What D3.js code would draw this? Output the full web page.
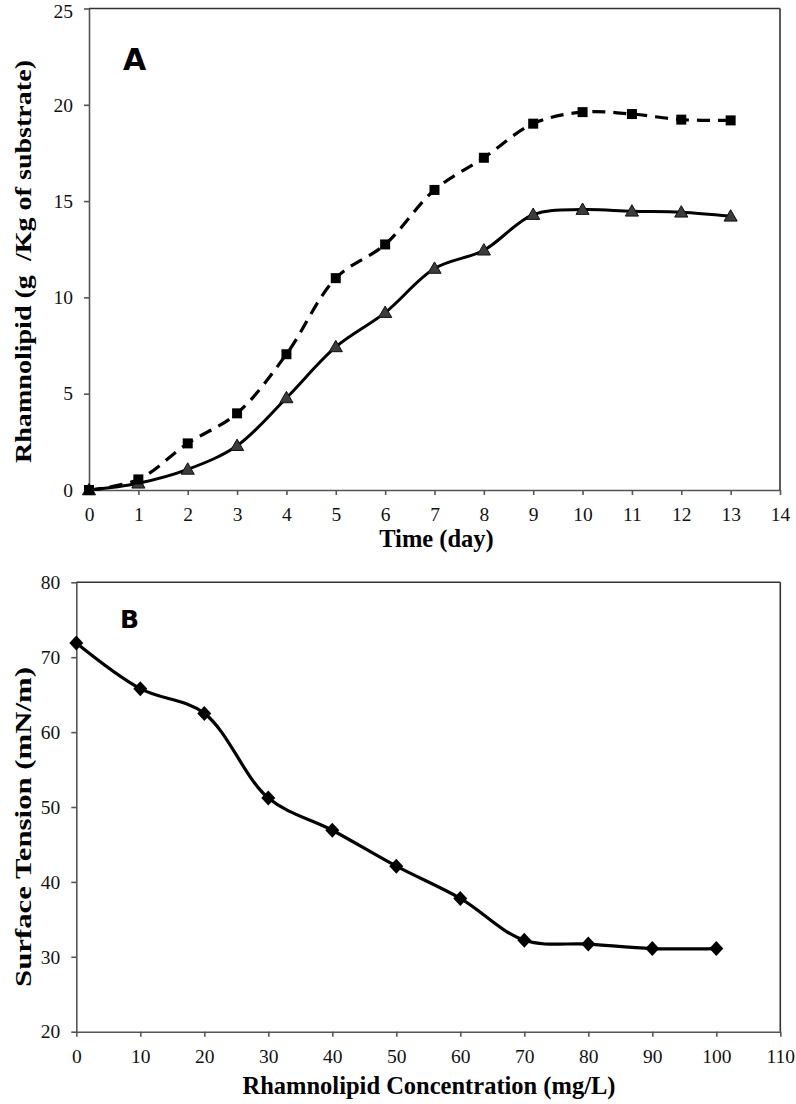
<!DOCTYPE html>
<html><head><meta charset="utf-8">
<script src="https://cdn.jsdelivr.net/npm/d3@7"></script>
<style>
html,body{margin:0;padding:0;background:#fff;}
svg{display:block;}
text{white-space:pre;}
</style></head>
<body>
<svg id="c" width="796" height="1104"></svg>
<script>
// ---- Panel A data ----
const daysA = [0,1,2,3,4,5,6,7,8,9,10,11,12,13];
const squaresA = [0,0.55,2.42,3.98,7.05,11.0,12.75,15.58,17.25,19.02,19.62,19.52,19.23,19.19];
const trianglesA = [0,0.35,1.07,2.3,4.78,7.43,9.21,11.5,12.45,14.3,14.56,14.47,14.42,14.21];
const xTicksA = [0,1,2,3,4,5,6,7,8,9,10,11,12,13,14];
const yTicksA = [0,5,10,15,20,25];
// ---- Panel B data ----
const concB = [0,10,20,30,40,50,60,70,80,90,100];
const tensionB = [71.9,65.8,62.5,51.2,46.9,42.1,37.8,32.2,31.7,31.1,31.1];
const xTicksB = [0,10,20,30,40,50,60,70,80,90,100,110];
const yTicksB = [20,30,40,50,60,70,80];

const svg = d3.select('#c');
const axisColor = '#555';
const serif = '"Liberation Serif","Times New Roman",serif';

function frame(g, x, y, xt, yt) {
  const [x0,x1] = x.range(), [y0,y1] = y.range();
  const ax = g.append('g').attr('transform',`translate(0,${y0})`)
    .call(d3.axisBottom(x).tickValues(xt).tickSize(5).tickPadding(12).tickSizeOuter(0));
  const ay = g.append('g').attr('transform',`translate(${x0},0)`)
    .call(d3.axisLeft(y).tickValues(yt).tickSize(5).tickPadding(11).tickSizeOuter(0));
  [ax,ay].forEach(a=>{
    a.selectAll('path').attr('stroke',axisColor).attr('stroke-width',1.6);
    a.selectAll('line').attr('stroke',axisColor).attr('stroke-width',1.6);
    a.selectAll('text').attr('font-family',serif).attr('font-size',19.5).attr('fill','#111');
  });
  ax.selectAll('text').attr('dy','0.71em');
  g.append('line').attr('x1',x0).attr('x2',x1).attr('y1',y1).attr('y2',y1)
    .attr('stroke','#333').attr('stroke-width',1.6);
  g.append('line').attr('x1',x1).attr('x2',x1).attr('y1',y1).attr('y2',y0)
    .attr('stroke','#333').attr('stroke-width',1.6);
  return ay;
}

// ---------- Panel A ----------
const gA = svg.append('g');
const xA = d3.scaleLinear().domain([0,14]).range([89,780]);
const yA = d3.scaleLinear().domain([0,25]).range([490,8.5]);
const ayA = frame(gA, xA, yA, xTicksA, yTicksA);
// keep the top tick label inside the page
ayA.selectAll('.tick').filter(d=>d===25).select('text').attr('dy','0.45em');

const lineA = d3.line().curve(d3.curveCatmullRom.alpha(0.5));
const triPts = daysA.map((d,i)=>[xA(d), yA(trianglesA[i])]);
const sqPts = daysA.map((d,i)=>[xA(d), yA(squaresA[i])]);

gA.append('path').attr('d', lineA(triPts)).attr('fill','none')
  .attr('stroke','#000').attr('stroke-width',3);
gA.selectAll('.tri').data(triPts).join('path')
  .attr('d', d3.symbol(d3.symbolTriangle, 75)())
  .attr('transform', d=>`translate(${d[0]},${d[1]+1})`)
  .attr('fill','#3c3c3c').attr('stroke','#111').attr('stroke-width',1);

gA.append('path').attr('d', lineA(sqPts)).attr('fill','none')
  .attr('stroke','#000').attr('stroke-width',3.2).attr('stroke-dasharray','13,8');
gA.selectAll('.sq').data(sqPts).join('rect')
  .attr('x', d=>d[0]-5).attr('y', d=>d[1]-5).attr('width',10).attr('height',10)
  .attr('fill','#000');

gA.append('text').text('A').attr('x',123).attr('y',70)
  .attr('font-family','"DejaVu Sans",sans-serif').attr('font-weight','bold')
  .attr('font-size',30).attr('fill','#000');

gA.append('text').text('Time (day)')
  .attr('x',(89+780)/2+2).attr('y',547).attr('text-anchor','middle')
  .attr('font-family',serif).attr('font-weight','bold').attr('font-size',24.5)
  .attr('fill','#000');

gA.append('text').text('Rhamnolipid (g  /Kg of substrate)')
  .attr('transform','translate(31,261.5) rotate(-90)')
  .attr('text-anchor','middle')
  .attr('textLength',403).attr('lengthAdjust','spacingAndGlyphs')
  .attr('font-family',serif).attr('font-weight','bold').attr('font-size',24)
  .attr('fill','#000');

// ---------- Panel B ----------
const gB = svg.append('g');
const xB = d3.scaleLinear().domain([0,110]).range([76.3,780.3]);
const yB = d3.scaleLinear().domain([20,80]).range([1031.7,582.3]);
frame(gB, xB, yB, xTicksB, yTicksB);

const bPts = concB.map((c,i)=>[xB(c), yB(tensionB[i])]);
gB.append('path').attr('d', lineA(bPts)).attr('fill','none')
  .attr('stroke','#000').attr('stroke-width',3.2);
gB.selectAll('.dia').data(bPts).join('path')
  .attr('d','M0,-7.5L7,0L0,7.5L-7,0Z')
  .attr('transform', d=>`translate(${d[0]},${d[1]})`)
  .attr('fill','#000');

gB.append('text').text('B').attr('x',120).attr('y',628)
  .attr('font-family','"DejaVu Sans",sans-serif').attr('font-weight','bold')
  .attr('font-size',25).attr('fill','#000');

gB.append('text').text('Rhamnolipid Concentration (mg/L)')
  .attr('x',429).attr('y',1094).attr('text-anchor','middle')
  .attr('font-family',serif).attr('font-weight','bold').attr('font-size',24.5)
  .attr('fill','#000');

gB.append('text').text('Surface Tension (mN/m)')
  .attr('transform','translate(31,827) rotate(-90)')
  .attr('text-anchor','middle')
  .attr('textLength',320).attr('lengthAdjust','spacingAndGlyphs')
  .attr('font-family',serif).attr('font-weight','bold').attr('font-size',24)
  .attr('fill','#000');
</script>
</body></html>
